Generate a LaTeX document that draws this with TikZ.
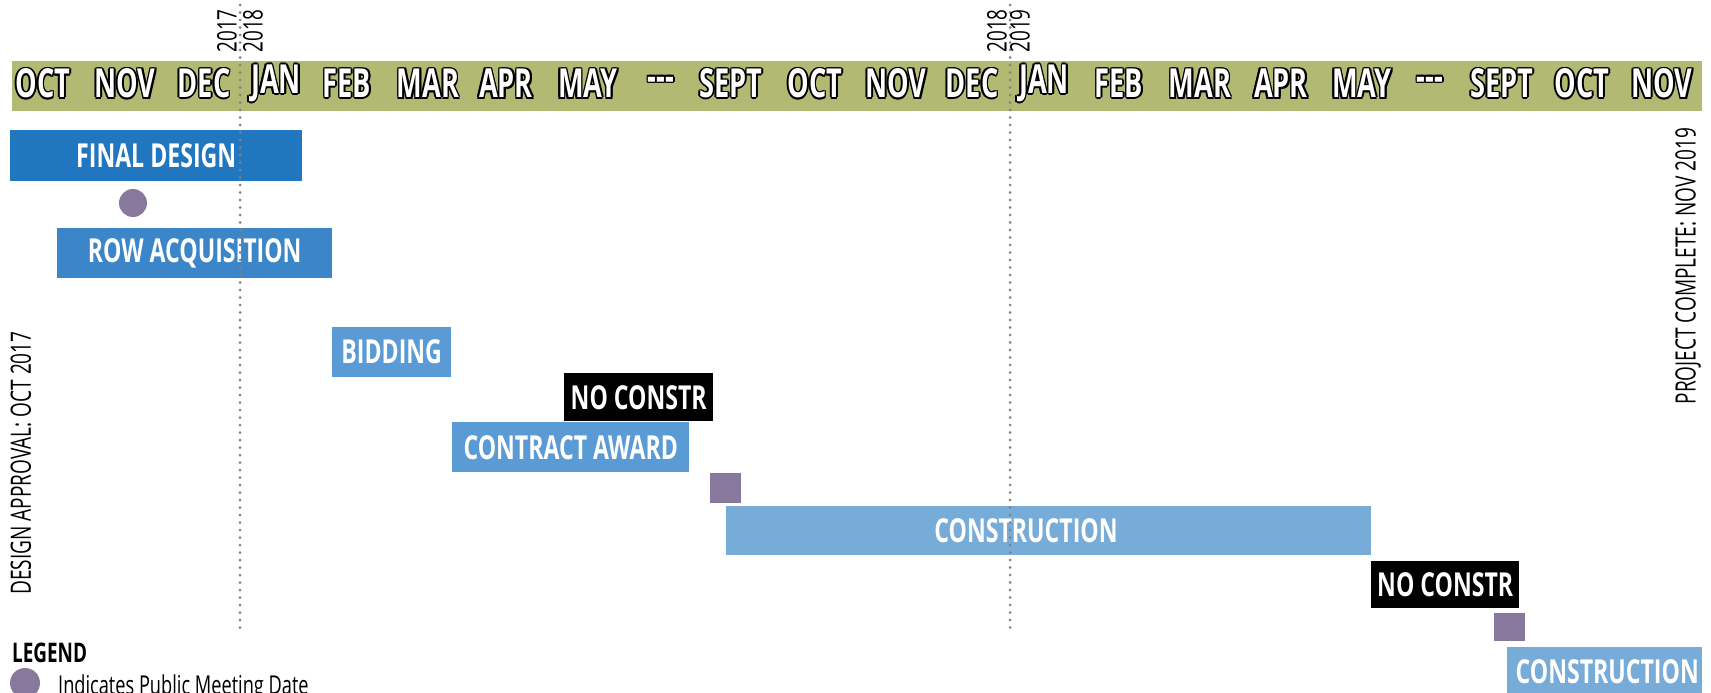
\documentclass[tikz,border=0pt]{standalone}
\usepackage{fontspec}
\setmainfont{Open Sans}[FakeStretch=0.76]
\newfontfamily\monthfont{Open Sans}[FakeStretch=0.68]
\newfontfamily\narrowfont{Open Sans}[FakeStretch=0.70]
\definecolor{barolive}{RGB}{177,185,115}
\definecolor{fdblue}{RGB}{33,118,192}
\definecolor{rowblue}{RGB}{59,134,201}
\definecolor{midblue}{RGB}{91,155,213}
\definecolor{conblue}{RGB}{120,172,216}
\definecolor{meetpurple}{RGB}{136,120,158}
\definecolor{dotgray}{RGB}{130,130,130}
\newcommand\ocopy[3]{\rlap{\hspace*{#1}\raisebox{#2}{\color{black}#3}}}
\newcommand\outl[1]{\ocopy{-1.7pt}{0pt}{#1}\ocopy{1.7pt}{0pt}{#1}\ocopy{0pt}{1.7pt}{#1}\ocopy{0pt}{-1.7pt}{#1}\ocopy{-1.2pt}{-1.2pt}{#1}\ocopy{1.2pt}{1.2pt}{#1}\ocopy{-1.2pt}{1.2pt}{#1}\ocopy{1.2pt}{-1.2pt}{#1}{\color{white}#1}}
\begin{document}
\begin{tikzpicture}[x=1pt,y=-1pt,
  barfont/.style={font=\narrowfont\fontsize{33}{33}\bfseries\selectfont},
  bar/.style={draw=none, inner sep=0pt, anchor=north west, text=white, barfont},
  bartext/.style={inner sep=0pt, text=white, barfont},
  month/.style={inner sep=0pt, font=\monthfont\fontsize{40}{40}\bfseries\selectfont},
  yearlbl/.style={inner sep=0pt, rotate=90, font=\narrowfont\fontsize{27}{27}\selectfont},
  sidelbl/.style={inner sep=0pt, rotate=90, font=\monthfont\fontsize{28}{28}\selectfont},
  dotline/.style={dotgray, line width=3pt, line cap=round, dash pattern=on 0pt off 7.5pt},
  meet/.style={circle, fill=meetpurple, inner sep=0pt, minimum size=28pt}]
\clip (0,0) rectangle (1711,693);
\fill[white] (0,0) rectangle (1711,693);
% month band
\node[fill=barolive, inner sep=0pt, anchor=north west, minimum width=1690pt, minimum height=50pt] (band) at (12,61) {};
\foreach \x/\t [count=\i] in {43/OCT,125/NOV,204/DEC,276/JAN,347/FEB,428/MAR,506/APR,588/MAY,661/{-}{-}{-},731/SEPT,815/OCT,896/NOV,972/DEC,1044/JAN,1119/FEB,1200/MAR,1281/APR,1362/MAY,1430/{-}{-}{-},1502/SEPT,1582/OCT,1662/NOV}
  \node[month] (m\i) at (\x,83.5) {\outl{\t}};
% bars
\node[bar, fill=fdblue, minimum width=292pt, minimum height=51pt] (fd) at (10,130) {FINAL DESIGN};
\node[meet] (pm1) at (133,203) {};
\node[bar, fill=rowblue, minimum width=275pt, minimum height=50pt] (row) at (57,228) {ROW ACQUISITION};
\node[bar, fill=midblue, minimum width=119pt, minimum height=50pt] (bid) at (332,327) {BIDDING};
\node[bar, fill=black, minimum width=149pt, minimum height=48pt] (nc1) at (564,373) {NO CONSTR};
\node[bar, fill=midblue, minimum width=237pt, minimum height=50pt] (ca) at (452,422) {CONTRACT AWARD};
\node[bar, fill=meetpurple, minimum width=31pt, minimum height=30pt] (sq1) at (710,473) {};
\node[bar, fill=conblue, minimum width=645pt, minimum height=49pt] (con1) at (726,506) {};
\node[bartext] (con1t) at (1026,530.5) {CONSTRUCTION};
\node[bar, fill=black, minimum width=148pt, minimum height=47pt] (nc2) at (1371,561) {NO CONSTR};
\node[bar, fill=meetpurple, minimum width=31pt, minimum height=28pt] (sq2) at (1494,613) {};
\node[bar, fill=conblue, minimum width=195pt, minimum height=52pt] (con2) at (1507,647) {};
\node[bartext, anchor=east] (con2t) at (1699,671.5) {CONSTRUCTION};
% year dividers
\coordinate (d1t) at (240,5); \coordinate (d1b) at (240,633);
\coordinate (d2t) at (1010,5); \coordinate (d2b) at (1010,633);
\draw[dotline] (d1t) -- (d1b);
\draw[dotline] (d2t) -- (d2b);
\node[yearlbl] (y17) at (227,31) {2017};
\node[yearlbl] (y18a) at (253,31) {2018};
\node[yearlbl] (y18b) at (997,31) {2018};
\node[yearlbl] (y19) at (1020,31) {2019};
% side labels
\node[sidelbl] (da) at (21,463) {DESIGN APPROVAL: OCT 2017};
\node[sidelbl] (pc) at (1688,266) {PROJECT COMPLETE: NOV 2019};
% legend
\node[inner sep=0pt, anchor=north west, font=\narrowfont\fontsize{27}{27}\bfseries\selectfont] (leg) at (12,643) {LEGEND};
\node[meet, minimum size=30pt] (pm2) at (25,683) {};
\node[inner sep=0pt, anchor=north west, font=\narrowfont\fontsize{26}{26}\selectfont] (legt) at (58,675) {Indicates Public Meeting Date};
\end{tikzpicture}
\end{document}
